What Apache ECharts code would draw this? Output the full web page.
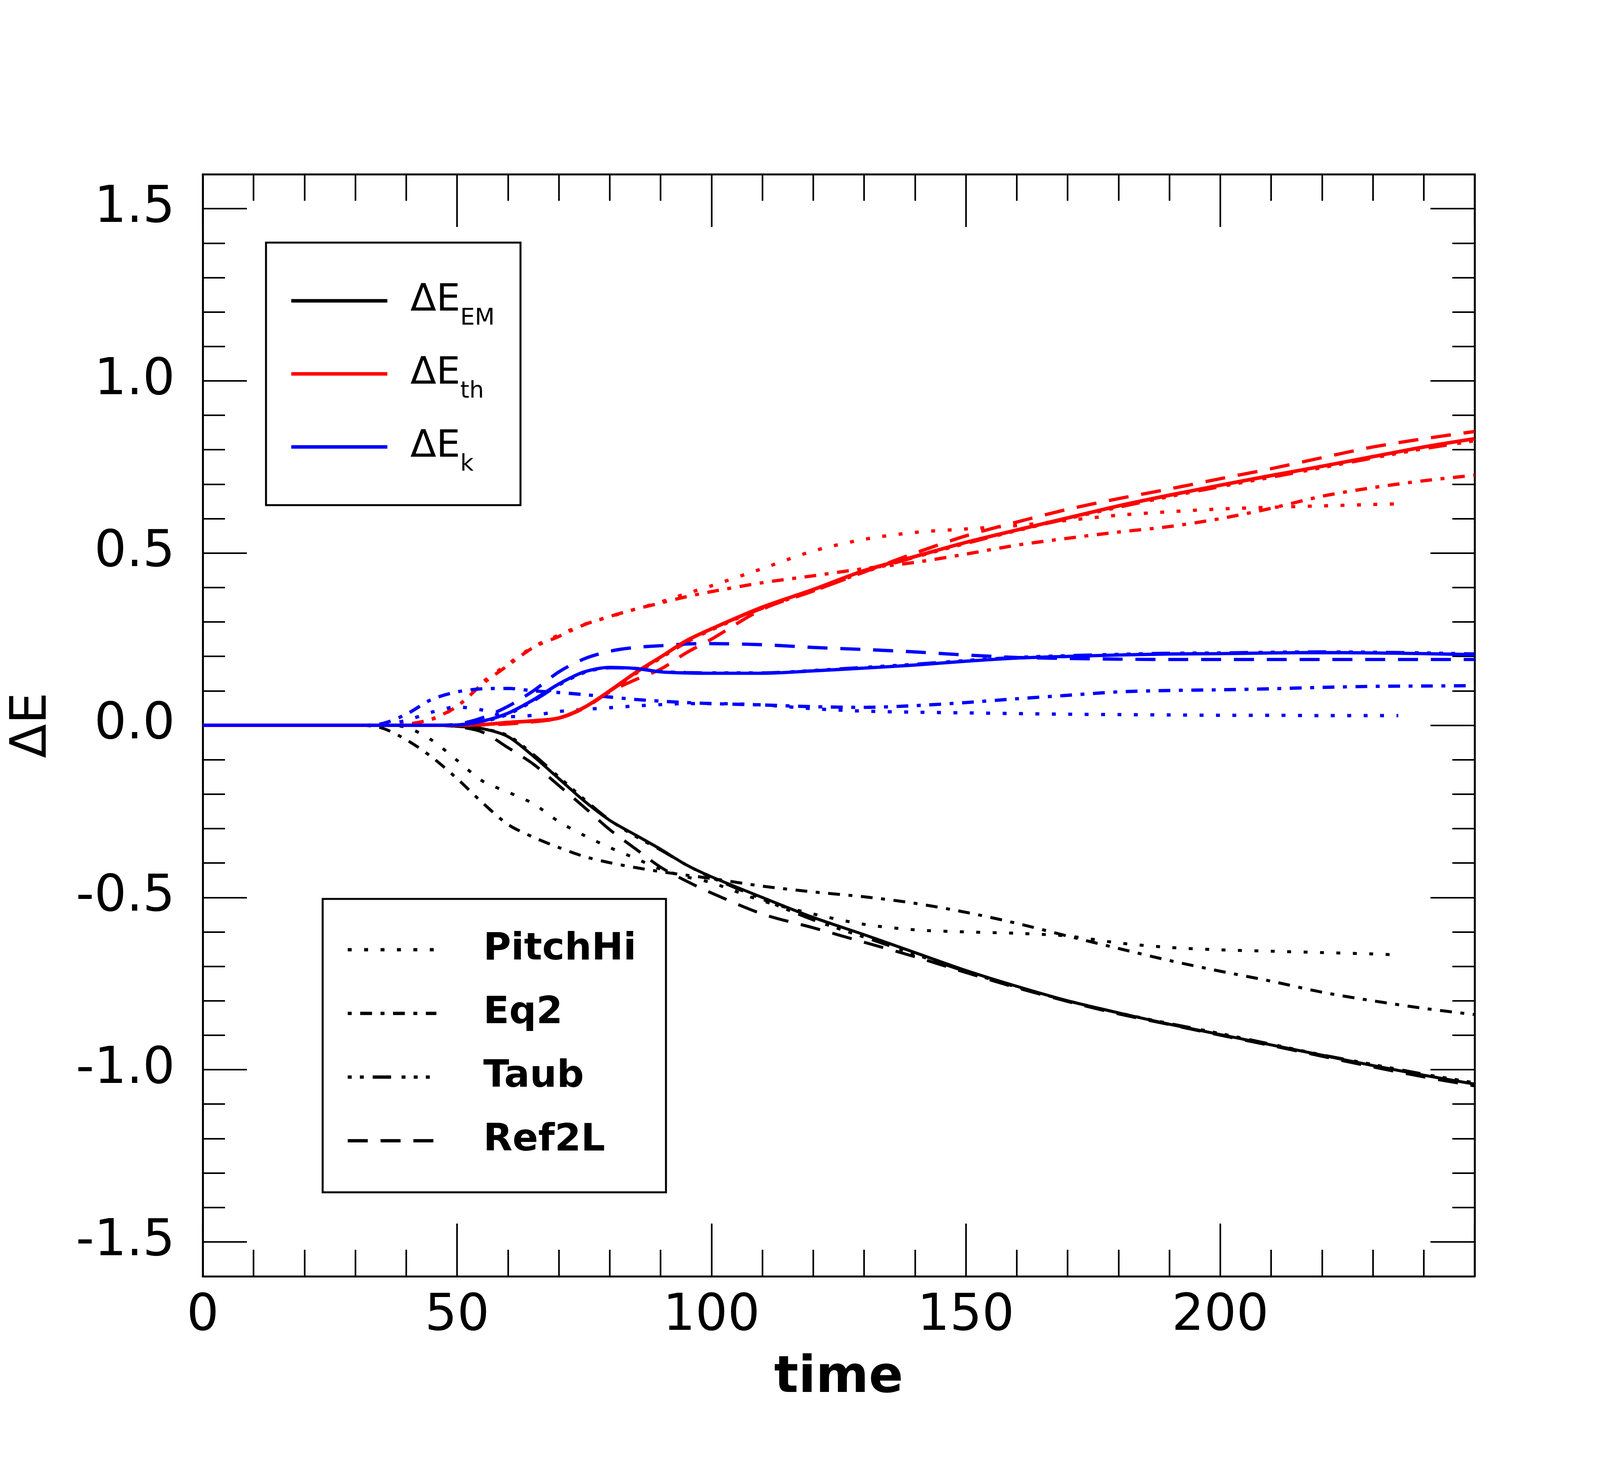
<!DOCTYPE html>
<html>
<head>
<meta charset="utf-8">
<script src="https://cdn.jsdelivr.net/npm/echarts@6/dist/echarts.min.js"></script>
<style>
  html, body { margin: 0; padding: 0; background: #fff; overflow: hidden; }
  #chart { width: 100vw; height: 100vh; }
</style>
</head>
<body>
<div id="chart"></div>
<script>
// sample times
const time = [0, 10, 20, 30, 35, 40, 45, 50, 55, 60, 65, 70, 75, 80, 85, 90, 95, 100,
  110, 120, 130, 140, 150, 160, 170, 180, 190, 200, 210, 220, 230, 240, 250]
const timePitch = [0, 10, 20, 30, 35, 40, 45, 50, 55, 60, 65, 70, 75, 80, 85, 90, 95, 100,
  110, 120, 130, 140, 150, 160, 170, 180, 190, 200, 210, 220, 230, 235]

// delta E_EM (black)
const emBase = [0, 0, 0, 0, 0, 0, 0, -0.003, -0.01, -0.033, -0.09, -0.155, -0.22, -0.276, -0.318, -0.36, -0.405, -0.44,
  -0.5, -0.558, -0.608, -0.66, -0.712, -0.758, -0.8, -0.835, -0.868, -0.898, -0.928, -0.958, -0.988, -1.016, -1.042]
const emRef2L = [0, 0, 0, 0, 0, 0, 0, -0.004, -0.02, -0.065, -0.113, -0.175, -0.238, -0.303, -0.358, -0.412, -0.452, -0.487,
  -0.548, -0.588, -0.63, -0.672, -0.718, -0.762, -0.802, -0.838, -0.869, -0.9, -0.93, -0.961, -0.992, -1.021, -1.047]
const emTaub = [0, 0, 0, 0, 0, 0, 0, -0.002, -0.01, -0.03, -0.085, -0.15, -0.215, -0.275, -0.322, -0.362, -0.405, -0.442,
  -0.505, -0.565, -0.615, -0.665, -0.715, -0.76, -0.8, -0.835, -0.866, -0.895, -0.926, -0.957, -0.985, -1.013, -1.038]
const emPitch = [0, 0, 0, 0, 0, -0.006, -0.043, -0.102, -0.162, -0.194, -0.228, -0.28, -0.32, -0.355, -0.386, -0.418, -0.44, -0.457,
  -0.51, -0.548, -0.578, -0.594, -0.6, -0.604, -0.612, -0.632, -0.645, -0.652, -0.656, -0.66, -0.664, -0.667]
const emEq2 = [0, 0, 0, 0, -0.007, -0.042, -0.092, -0.155, -0.225, -0.288, -0.325, -0.355, -0.381, -0.399, -0.413, -0.425, -0.435, -0.445,
  -0.467, -0.484, -0.498, -0.517, -0.543, -0.575, -0.612, -0.648, -0.683, -0.714, -0.743, -0.775, -0.8, -0.822, -0.84]

// delta E_th (red)
const thBase = [0, 0, 0, 0, 0, 0, 0, 0, 0.002, 0.008, 0.013, 0.021, 0.052, 0.1, 0.152, 0.198, 0.245, 0.28,
  0.343, 0.394, 0.449, 0.49, 0.531, 0.567, 0.602, 0.637, 0.668, 0.697, 0.725, 0.752, 0.78, 0.808, 0.832]
const thRef2L = [0, 0, 0, 0, 0, 0, 0, 0, 0.001, 0.004, 0.01, 0.02, 0.05, 0.097, 0.132, 0.163, 0.21, 0.25,
  0.337, 0.39, 0.445, 0.5, 0.55, 0.59, 0.627, 0.658, 0.686, 0.716, 0.745, 0.777, 0.808, 0.832, 0.853]
const thTaub = [0, 0, 0, 0, 0, 0, 0, 0, 0.002, 0.007, 0.012, 0.021, 0.052, 0.099, 0.149, 0.195, 0.24, 0.277,
  0.34, 0.39, 0.445, 0.488, 0.528, 0.565, 0.6, 0.633, 0.664, 0.693, 0.72, 0.748, 0.776, 0.803, 0.826]
const thPitch = [0, 0, 0, 0, 0, 0.002, 0.017, 0.055, 0.125, 0.178, 0.228, 0.262, 0.293, 0.315, 0.337, 0.358, 0.382, 0.405,
  0.455, 0.506, 0.54, 0.56, 0.57, 0.58, 0.595, 0.61, 0.62, 0.628, 0.633, 0.637, 0.641, 0.643]
const thEq2 = [0, 0, 0, 0, 0, 0.003, 0.018, 0.055, 0.12, 0.174, 0.226, 0.258, 0.292, 0.316, 0.337, 0.355, 0.373, 0.388,
  0.414, 0.434, 0.455, 0.473, 0.497, 0.523, 0.543, 0.561, 0.577, 0.6, 0.63, 0.665, 0.69, 0.71, 0.726]

// delta E_k (blue)
const kBase = [0, 0, 0, 0, 0, 0, 0, 0.001, 0.012, 0.035, 0.074, 0.12, 0.155, 0.168, 0.165, 0.155, 0.152, 0.151,
  0.151, 0.158, 0.166, 0.175, 0.186, 0.195, 0.2, 0.204, 0.207, 0.208, 0.21, 0.211, 0.21, 0.208, 0.205]
const kRef2L = [0, 0, 0, 0, 0, 0, 0, 0.003, 0.022, 0.055, 0.1, 0.155, 0.193, 0.215, 0.226, 0.231, 0.236, 0.237,
  0.234, 0.226, 0.22, 0.213, 0.204, 0.197, 0.194, 0.192, 0.191, 0.191, 0.191, 0.191, 0.191, 0.191, 0.191]
const kTaub = [0, 0, 0, 0, 0, 0, 0, 0.001, 0.01, 0.032, 0.071, 0.117, 0.153, 0.167, 0.165, 0.156, 0.153, 0.152,
  0.152, 0.159, 0.168, 0.177, 0.188, 0.197, 0.202, 0.206, 0.209, 0.21, 0.212, 0.213, 0.212, 0.21, 0.207]
const kPitch = [0, 0, 0, 0, 0.002, 0.014, 0.038, 0.053, 0.044, 0.025, 0.029, 0.04, 0.046, 0.051, 0.056, 0.06, 0.063, 0.063,
  0.059, 0.048, 0.041, 0.038, 0.036, 0.034, 0.032, 0.031, 0.03, 0.029, 0.029, 0.028, 0.028, 0.028]
const kEq2 = [0, 0, 0, 0, 0.004, 0.032, 0.075, 0.097, 0.106, 0.107, 0.1, 0.095, 0.089, 0.082, 0.075, 0.07, 0.066, 0.063,
  0.059, 0.054, 0.052, 0.057, 0.066, 0.077, 0.087, 0.097, 0.101, 0.103, 0.106, 0.11, 0.113, 0.114, 0.115]

const yMajor = [-1.5, -1, -0.5, 0, 0.5, 1, 1.5]
const runLegend = ['PitchHi', 'Eq2', 'Taub', 'Ref2L']
const energyLegend = ['ΔE_EM', 'ΔE_th', 'ΔE_k']

// layout is drawn for 4875x3750 and scaled to the real window
const el = document.getElementById('chart')
const sx = el.clientWidth / 4875
const sy = el.clientHeight / 3750
const fs = Math.min(sx, sy)
const X = v => Math.round(v * sx)
const Y = v => Math.round(v * sy)
const F = v => Math.round(v * fs)

const FONT = 'DejaVu Sans'
const dashes = {
  solid: 'solid',
  PitchHi: [12, 38],
  Eq2: [12, 26, 36, 26],
  Taub: [12, 25, 12, 27, 56, 32, 12, 25, 12, 25],
  Ref2L: [61, 39]
}

function dash(style) {
  const d = dashes[style]
  return Array.isArray(d) ? d.map(v => v * sx) : d
}

function zip(xs, ys) {
  return ys.map((y, i) => [xs[i], y])
}

function line(name, xs, ys, color, style, width) {
  return {
    name: name,
    type: 'line',
    data: zip(xs, ys),
    showSymbol: false,
    symbol: 'none',
    smooth: 0.3,
    xAxisIndex: 0,
    yAxisIndex: 0,
    lineStyle: { color: color, width: width * fs, type: dash(style) },
    itemStyle: { color: color },
    emphasis: { disabled: true }
  }
}

const RED = '#ff0000'
const BLUE = '#0000ff'
const BLACK = '#000000'

const series = [
  line('PitchHi', timePitch, emPitch, BLACK, 'PitchHi', 9),
  line('Eq2', time, emEq2, BLACK, 'Eq2', 9),
  line('Taub', time, emTaub, BLACK, 'Taub', 9),
  line('Ref2L', time, emRef2L, BLACK, 'Ref2L', 9),
  line('PitchHi th', timePitch, thPitch, RED, 'PitchHi', 10),
  line('Eq2 th', time, thEq2, RED, 'Eq2', 10),
  line('Taub th', time, thTaub, RED, 'Taub', 10),
  line('Ref2L th', time, thRef2L, RED, 'Ref2L', 10),
  line('PitchHi k', timePitch, kPitch, BLUE, 'PitchHi', 10),
  line('Eq2 k', time, kEq2, BLUE, 'Eq2', 10),
  line('Taub k', time, kTaub, BLUE, 'Taub', 10),
  line('Ref2L k', time, kRef2L, BLUE, 'Ref2L', 10),
  line('ΔE_EM', time, emBase, BLACK, 'solid', 9),
  line('ΔE_th', time, thBase, RED, 'solid', 11),
  line('ΔE_k', time, kBase, BLUE, 'solid', 10)
]

const frameLine = { show: true, onZero: false, lineStyle: { color: '#000', width: 6 * fs } }
const tickStyle = { color: '#000', width: 5 * fs }

function xAxis(pos, labels) {
  return {
    type: 'value', position: pos, min: 0, max: 250, interval: 50,
    axisLine: frameLine,
    axisTick: { show: true, inside: true, length: Y(135), lineStyle: tickStyle },
    minorTick: { show: true, splitNumber: 5, length: Y(68), lineStyle: tickStyle },
    splitLine: { show: false },
    minorSplitLine: { show: false },
    axisLabel: {
      show: labels, margin: Y(26) + (155 - F(155)) / 2, fontSize: F(155), fontFamily: FONT, color: '#000',
      formatter: v => (v === 250 ? '' : String(v))
    },
    name: labels ? 'time' : '',
    nameLocation: 'middle',
    nameGap: Y(185) + (155 - F(155)) / 2,
    nameTextStyle: { fontSize: F(155), fontWeight: 'bold', fontFamily: FONT, color: '#000' }
  }
}

function yMajorAxis(pos, labels) {
  return {
    type: 'value', position: pos, min: -1.6, max: 1.6,
    axisLine: frameLine,
    axisTick: { show: true, inside: true, length: X(135), lineStyle: tickStyle, customValues: yMajor },
    splitLine: { show: false },
    axisLabel: {
      show: labels, customValues: yMajor, margin: X(85), fontSize: F(155), fontFamily: FONT, color: '#000',
      formatter: v => v.toFixed(1)
    },
    name: labels ? 'ΔE' : '',
    nameLocation: 'middle',
    nameRotate: 90,
    nameGap: X(531) - F(89),
    nameTextStyle: { fontSize: F(152), fontFamily: FONT, color: '#000' }
  }
}

function yMinorAxis(pos) {
  return {
    type: 'value', position: pos, min: -1.6, max: 1.6, interval: 0.1,
    axisLine: { show: false, onZero: false },
    axisTick: { show: true, inside: true, length: X(68), lineStyle: tickStyle },
    splitLine: { show: false },
    axisLabel: { show: false }
  }
}

const option = {
  animation: false,
  backgroundColor: '#fff',
  textStyle: { fontFamily: FONT },
  grid: { left: X(618), right: X(382), top: Y(446), bottom: Y(483), outerBoundsMode: 'none' },
  xAxis: [xAxis('bottom', true), xAxis('top', false)],
  yAxis: [yMajorAxis('left', true), yMajorAxis('right', false), yMinorAxis('left'), yMinorAxis('right')],
  legend: [
    {
      data: energyLegend,
      orient: 'vertical', left: X(810), top: Y(621),
      padding: [Y(74), X(79), Y(74), X(71)],
      itemWidth: X(293), itemHeight: 20, itemGap: Y(37),
      borderColor: '#000', borderWidth: 6 * fs,
      selectedMode: false,
      itemStyle: { opacity: 0 },
      lineStyle: { width: 11 * fs },
      formatter: n => {
        const p = n.split('_')
        return '{g| }{m|' + p[0] + '}{s|' + p[1] + '}'
      },
      textStyle: {
        color: '#000', fontFamily: FONT, fontSize: F(115), lineHeight: Y(150),
        rich: {
          g: { width: X(64), fontSize: F(115), lineHeight: Y(150) },
          m: { fontSize: F(115), lineHeight: Y(150), fontFamily: FONT, color: '#000' },
          s: { fontSize: F(70), lineHeight: Y(56), verticalAlign: 'bottom', fontFamily: FONT, color: '#000' }
        }
      }
    },
    {
      data: runLegend,
      orient: 'vertical', left: X(983), top: Y(2301),
      padding: [Y(55), X(90), Y(57), X(71)],
      itemWidth: X(270), itemHeight: 20, itemGap: Y(13),
      borderColor: '#000', borderWidth: 6 * fs,
      selectedMode: false,
      itemStyle: { opacity: 0 },
      lineStyle: { width: 10 * fs },
      formatter: n => '{g| }{n|' + n + '}',
      textStyle: {
        color: '#000', fontFamily: FONT, fontSize: F(115), fontWeight: 'bold', lineHeight: Y(150),
        rich: {
          g: { width: X(137), fontSize: F(115), lineHeight: Y(150) },
          n: { fontSize: F(115), fontWeight: 'bold', lineHeight: Y(150), fontFamily: FONT, color: '#000' }
        }
      }
    }
  ],
  series: series
}

const chart = echarts.init(el)
chart.setOption(option)
window.addEventListener('resize', () => {
  chart.resize()
})
</script>
</body>
</html>
